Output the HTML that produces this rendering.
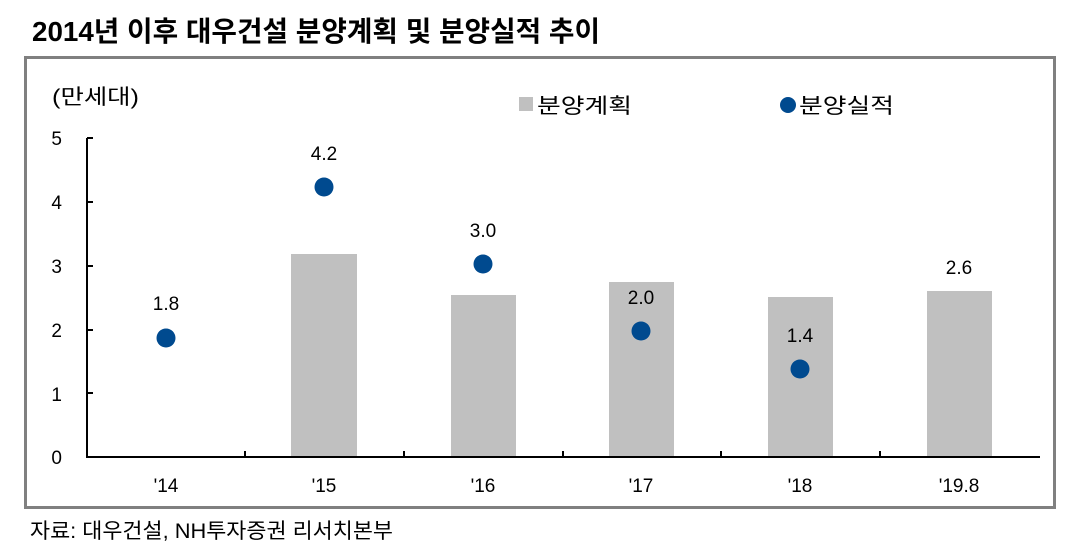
<!DOCTYPE html><html><head><meta charset="utf-8"><style>
body{margin:0;width:1069px;height:551px;background:#fff;overflow:hidden}
svg text{font-family:"Liberation Sans","Noto Sans CJK KR",sans-serif}
</style></head><body>
<svg width="1069" height="551" xmlns="http://www.w3.org/2000/svg">
<text x="32" y="41" font-size="28" font-weight="bold" fill="#000" textLength="568" lengthAdjust="spacingAndGlyphs">2014년 이후 대우건설 분양계획 및 분양실적 추이</text>
<rect x="25.5" y="57.5" width="1029" height="450" fill="none" stroke="#808080" stroke-width="3"/>
<text x="52" y="104" font-size="21" textLength="87" lengthAdjust="spacingAndGlyphs">(만세대)</text>
<rect x="519" y="97" width="14" height="14" fill="#c0c0c0"/>
<text x="537" y="113" font-size="21" textLength="95" lengthAdjust="spacingAndGlyphs">분양계획</text>
<circle cx="788" cy="105" r="8" fill="#004a8f"/>
<text x="799" y="113" font-size="21" textLength="95" lengthAdjust="spacingAndGlyphs">분양실적</text>
<g font-size="19" text-anchor="end">
<text x="62" y="145">5</text><text x="62" y="209">4</text><text x="62" y="273">3</text><text x="62" y="337">2</text><text x="62" y="401">1</text><text x="62" y="464">0</text></g>
<g fill="#c0c0c0">
<rect x="291" y="254" width="66" height="203"/>
<rect x="451" y="295" width="65" height="162"/>
<rect x="609" y="282" width="65" height="175"/>
<rect x="768" y="297" width="65" height="160"/>
<rect x="927" y="291" width="65" height="166"/>
</g>
<g stroke="#000" stroke-width="2">
<line x1="87" y1="138" x2="87" y2="458"/>
<line x1="86" y1="457" x2="1040" y2="457"/>
<line x1="87" y1="138" x2="93" y2="138"/><line x1="87" y1="202" x2="93" y2="202"/><line x1="87" y1="266" x2="93" y2="266"/><line x1="87" y1="330" x2="93" y2="330"/><line x1="87" y1="393" x2="93" y2="393"/>
<line x1="245" y1="451" x2="245" y2="457"/><line x1="404" y1="451" x2="404" y2="457"/><line x1="563" y1="451" x2="563" y2="457"/><line x1="721" y1="451" x2="721" y2="457"/><line x1="880" y1="451" x2="880" y2="457"/>
</g>
<g fill="#004a8f">
<circle cx="166" cy="338" r="9.5"/><circle cx="324" cy="187" r="9.5"/><circle cx="483" cy="264" r="9.5"/><circle cx="641" cy="331" r="9.5"/><circle cx="800" cy="369" r="9.5"/></g>
<g font-size="19" text-anchor="middle">
<text x="166" y="310">1.8</text><text x="324" y="160">4.2</text><text x="483" y="237">3.0</text><text x="641" y="304">2.0</text><text x="800" y="342">1.4</text><text x="959" y="274">2.6</text>
<text x="166" y="492">'14</text><text x="324" y="492">'15</text><text x="483" y="492">'16</text><text x="641" y="492">'17</text><text x="800" y="492">'18</text><text x="959" y="492">'19.8</text>
</g>
<text x="30" y="538" font-size="21" textLength="363" lengthAdjust="spacingAndGlyphs">자료: 대우건설, NH투자증권 리서치본부</text>
</svg></body></html>
